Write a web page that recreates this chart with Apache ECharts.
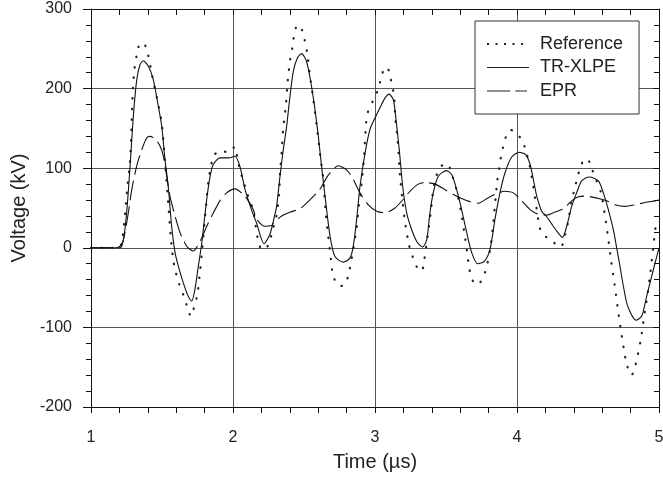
<!DOCTYPE html>
<html>
<head>
<meta charset="utf-8">
<script src="https://cdn.jsdelivr.net/npm/echarts@6/dist/echarts.min.js"></script>
<style>
html,body{margin:0;padding:0;background:#fff;}
#chart{width:663px;height:477px;}
</style>
</head>
<body>
<div id="chart"></div>
<script>
// ---- data (time in µs, voltage in kV) ----
var seriesNames = ['Reference', 'TR-XLPE', 'EPR'];
var xTicks = [1, 2, 3, 4, 5];
var yTicks = [-200, -100, 0, 100, 200, 300];

var refT = [1.0,1.2,1.216,1.228,1.244,1.258,1.275,1.285,1.293,1.305,1.317,1.333,1.368,1.4,1.432,1.467,1.498,1.512,1.526,1.544,1.563,1.58,1.596,1.62,1.65,1.674,1.704,1.73,1.749,1.768,1.784,1.805,1.829,1.843,1.862,1.908,1.967,2.014,2.03,2.049,2.073,2.096,2.127,2.148,2.174,2.202,2.23,2.256,2.279,2.303,2.324,2.331,2.343,2.354,2.373,2.385,2.403,2.418,2.43,2.453,2.488,2.507,2.523,2.542,2.566,2.596,2.615,2.636,2.653,2.671,2.69,2.699,2.725,2.76,2.791,2.817,2.831,2.847,2.871,2.887,2.899,2.923,2.937,2.949,2.984,3.017,3.04,3.063,3.08,3.101,3.117,3.134,3.143,3.16,3.176,3.192,3.211,3.239,3.263,3.294,3.315,3.334,3.348,3.371,3.392,3.41,3.427,3.458,3.49,3.512,3.545,3.571,3.604,3.63,3.653,3.664,3.685,3.71,3.735,3.775,3.81,3.83,3.845,3.861,3.873,3.885,3.901,3.925,3.955,3.981,4.037,4.063,4.085,4.115,4.139,4.151,4.17,4.209,4.263,4.31,4.338,4.357,4.385,4.404,4.425,4.449,4.47,4.49,4.51,4.53,4.56,4.592,4.62,4.643,4.664,4.688,4.709,4.732,4.758,4.775,4.807,4.836,4.871,4.894,4.918,4.939,4.958,4.977,4.988];
var refV = [0,0,7,22,51,80,108,150,194,223,237,252,258,244,215,186,157,128,98,56,12,-16,-30,-45,-59,-72,-86,-72,-59,-29,0,43,87,100,115,122,120,127,113,98,84,70,56,41,12,-2,-1,6,23,37,65,93,121,151,180,209,237,251,266,280,273,259,244,216,186,144,115,86,43,14,-15,-29,-44,-48,-46,-31,-18,-2,26,55,69,115,156,170,184,197,211,225,227,221,206,192,163,134,91,62,33,4,-10,-24,-29,-28,-14,15,44,73,87,101,105,105,90,75,47,18,-11,-26,-40,-46,-45,-31,-3,26,54,84,98,112,126,141,148,146,135,121,107,77,48,34,20,13,6,1,16,30,59,73,88,103,110,112,108,98,84,69,40,11,-18,-47,-75,-104,-133,-148,-160,-146,-116,-88,-60,-31,-1,27,33];

var xlpeT = [1.0,1.18,1.204,1.228,1.251,1.275,1.298,1.322,1.345,1.368,1.404,1.439,1.474,1.498,1.521,1.544,1.568,1.592,1.615,1.65,1.685,1.709,1.732,1.756,1.78,1.815,1.839,1.862,1.908,1.967,2.014,2.049,2.085,2.13,2.166,2.218,2.26,2.29,2.307,2.331,2.354,2.378,2.401,2.425,2.455,2.483,2.518,2.549,2.577,2.601,2.624,2.648,2.683,2.718,2.777,2.824,2.847,2.871,2.894,2.93,2.965,3.0,3.035,3.07,3.099,3.129,3.148,3.171,3.195,3.223,3.258,3.294,3.335,3.364,3.387,3.41,3.446,3.504,3.54,3.575,3.61,3.646,3.681,3.723,3.77,3.81,3.845,3.88,3.915,3.963,4.014,4.061,4.092,4.115,4.139,4.174,4.209,4.244,4.28,4.32,4.35,4.385,4.42,4.455,4.509,4.573,4.608,4.643,4.678,4.702,4.725,4.749,4.779,4.838,4.878,4.913,4.948,4.984,5.0];
var xlpeV = [0,0,2,10,44,102,165,211,230,235,228,211,178,153,111,77,27,-6,-23,-44,-61,-67,-52,-23,6,61,90,105,113,113,115,102,73,48,31,5,17,38,52,90,123,153,190,222,239,244,234,207,174,140,102,65,15,-11,-18,-13,2,36,77,119,149,163,176,188,193,186,161,123,77,44,23,8,1,10,44,69,90,97,92,73,48,19,-6,-20,-17,-2,36,69,94,114,120,117,105,86,65,46,39,30,21,13,27,52,69,84,89,84,69,48,23,0,-23,-48,-73,-91,-86,-61,-36,-11,0];

var eprT = [1.0,1.2,1.216,1.239,1.263,1.287,1.322,1.357,1.392,1.415,1.451,1.486,1.51,1.533,1.556,1.592,1.627,1.674,1.72,1.768,1.815,1.862,1.908,1.955,2.014,2.073,2.108,2.143,2.166,2.225,2.272,2.284,2.343,2.405,2.472,2.54,2.61,2.67,2.742,2.805,2.847,2.894,2.953,3.012,3.07,3.141,3.199,3.246,3.305,3.352,3.423,3.493,3.552,3.61,3.669,3.728,3.798,3.857,3.911,3.974,4.033,4.092,4.151,4.209,4.268,4.326,4.385,4.433,4.479,4.549,4.632,4.69,4.761,4.831,4.901,4.972,5.0];
var eprV = [0,0,2,19,44,73,103,123,138,140,137,128,115,90,65,40,19,2,-4,8,27,44,59,69,74,67,59,48,36,27,28,31,40,45,49,60,73,91,103,97,86,69,54,46,44,50,61,71,80,82,80,73,67,62,58,56,63,68,71,69,59,48,42,41,45,49,59,64,65,63,59,54,52,54,57,59,60];

function pairs(t, v) { var out = []; for (var i = 0; i < t.length; i++) out.push([t[i], v[i]]); return out; }

// legend sample icons (42 x 14 box; tiny corner marks fix the bounding box)
var BOX = 'M0,0h0.01v0.01h-0.01z M41.99,13.99h0.01v0.01h-0.01z ';
var iconDots = 'path://' + BOX + 'M0,6h2v2h-2z M8.5,6h2v2h-2z M17,6h2v2h-2z M25.5,6h2v2h-2z M34,6h2v2h-2z';
var iconSolid = 'path://' + BOX + 'M0,6.45h42v1.1h-42z';
var iconDash = 'path://' + BOX + 'M0,6.45h23.3v1.1h-23.3z M28.3,6.45h11.7v1.1h-11.7z';

var FONT = '"Liberation Sans", Arial, Helvetica, sans-serif';
var chart = echarts.init(document.getElementById('chart'), null, {renderer: 'canvas'});

var option = {
  backgroundColor: '#fff',
  animation: false,
  textStyle: {fontFamily: FONT},
  grid: {left: 91, right: 4, top: 9, bottom: 70, containLabel: false, outerBoundsMode: 'none'},
  legend: {
    orient: 'vertical', left: 475, top: 21,
    padding: [13, 16, 13, 12],
    itemWidth: 42, itemHeight: 14, itemGap: 3.5,
    backgroundColor: '#fff', borderColor: '#333', borderWidth: 1,
    z: 10,
    itemStyle: {color: '#222', borderWidth: 0},
    textStyle: {fontSize: 18, color: '#222', fontFamily: FONT, lineHeight: 20, padding: [0, 0, 0, 6]},
    data: [
      {name: seriesNames[0], icon: iconDots},
      {name: seriesNames[1], icon: iconSolid},
      {name: seriesNames[2], icon: iconDash}
    ]
  },
  xAxis: [{
    type: 'value', min: xTicks[0], max: xTicks[xTicks.length - 1], interval: 1,
    position: 'bottom',
    name: 'Time (\u00b5s)', nameLocation: 'middle', nameGap: 45, nameMoveOverlap: false,
    nameTextStyle: {fontSize: 20, color: '#222', fontFamily: FONT},
    axisLine: {show: true, onZero: false, lineStyle: {color: '#111', width: 1}},
    axisTick: {show: true, inside: false, length: 6, lineStyle: {color: '#111'}},
    minorTick: {show: true, splitNumber: 5, length: 6, lineStyle: {color: '#111'}},
    axisLabel: {fontSize: 16, color: '#222', margin: 23, fontFamily: FONT},
    splitLine: {show: true, lineStyle: {color: '#555', width: 1}}
  }, {
    type: 'value', min: xTicks[0], max: xTicks[xTicks.length - 1], interval: 1,
    position: 'top',
    axisLine: {show: true, onZero: false, lineStyle: {color: '#111', width: 1}},
    axisTick: {show: true, inside: true, length: 6, lineStyle: {color: '#111'}},
    minorTick: {show: true, splitNumber: 5, length: 6, lineStyle: {color: '#111'}},
    axisLabel: {show: false},
    splitLine: {show: false}
  }],
  yAxis: [{
    type: 'value', min: yTicks[0], max: yTicks[yTicks.length - 1], interval: 100,
    position: 'left',
    name: 'Voltage (kV)', nameLocation: 'middle', nameGap: 62, nameMoveOverlap: false,
    nameTextStyle: {fontSize: 20, color: '#222', fontFamily: FONT},
    axisLine: {show: true, onZero: false, lineStyle: {color: '#111', width: 1}},
    axisTick: {show: true, inside: false, length: 8, lineStyle: {color: '#111'}},
    minorTick: {show: true, splitNumber: 5, length: 5, lineStyle: {color: '#111'}},
    axisLabel: {fontSize: 16, color: '#222', margin: 19, fontFamily: FONT},
    splitLine: {show: true, lineStyle: {color: '#555', width: 1}}
  }, {
    type: 'value', min: yTicks[0], max: yTicks[yTicks.length - 1], interval: 100,
    position: 'right',
    axisLine: {show: true, onZero: false, lineStyle: {color: '#111', width: 1}},
    axisTick: {show: true, inside: true, length: 6, lineStyle: {color: '#111'}},
    minorTick: {show: true, splitNumber: 5, length: 5, lineStyle: {color: '#111'}},
    axisLabel: {show: false},
    splitLine: {show: false}
  }],
  series: [{
    name: seriesNames[0], type: 'line', xAxisIndex: 0, yAxisIndex: 0,
    data: pairs(refT, refV), smooth: 0.25, symbol: 'none',
    itemStyle: {color: '#222'},
    lineStyle: {color: '#222', width: 2.2, type: [0.5, 10], cap: 'round'},
    z: 3
  }, {
    name: seriesNames[1], type: 'line', xAxisIndex: 0, yAxisIndex: 0,
    data: pairs(xlpeT, xlpeV), smooth: 0.25, symbol: 'none',
    itemStyle: {color: '#111'},
    lineStyle: {color: '#111', width: 1.1, type: 'solid'},
    z: 4
  }, {
    name: seriesNames[2], type: 'line', xAxisIndex: 0, yAxisIndex: 0,
    data: pairs(eprT, eprV), smooth: 0.25, symbol: 'none',
    itemStyle: {color: '#111'},
    lineStyle: {color: '#111', width: 1.1, type: [20, 6]},
    z: 4
  }]
};
chart.setOption(option);
</script>
</body>
</html>
